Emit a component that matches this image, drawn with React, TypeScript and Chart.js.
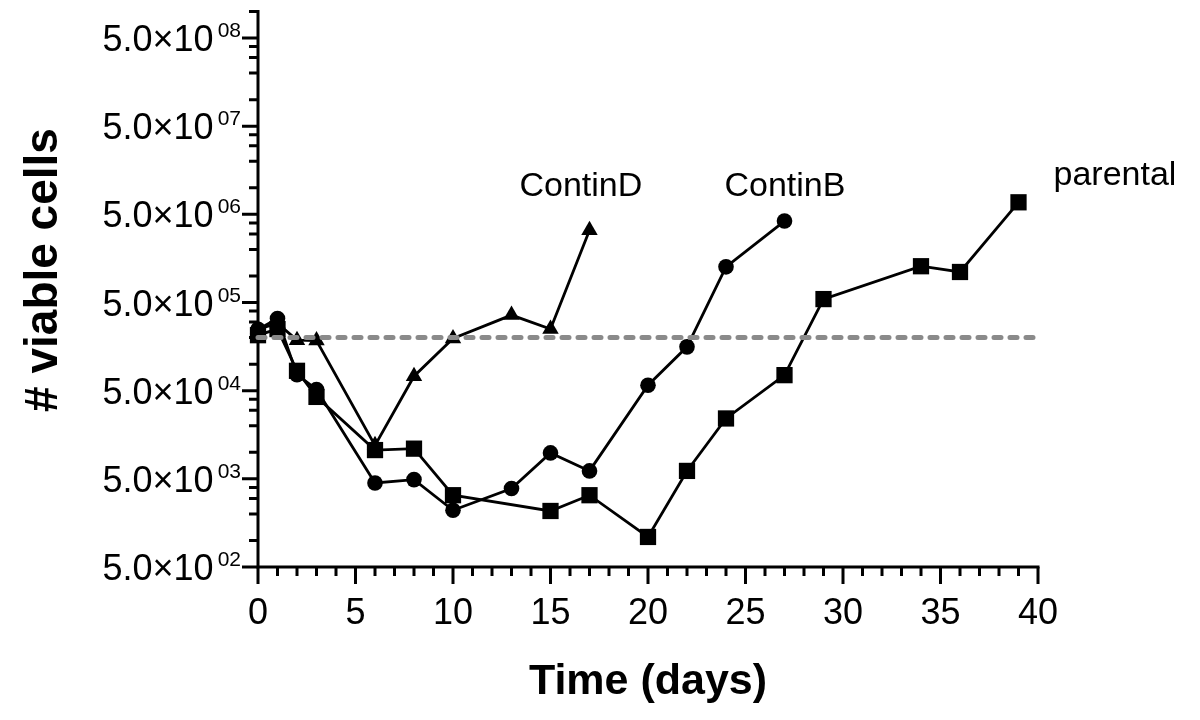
import React, { useEffect, useRef } from "react";
import { Chart, registerables } from "chart.js";

Chart.register(...registerables);

// ---- data ----
const contindDays = [0, 1, 2, 3, 6, 8, 10, 13, 15, 17];
const contindCells = [250000, 290000, 187000, 185000, 12000, 73000, 195000, 360000, 250000, 3300000];

const continbDays = [0, 1, 2, 3, 6, 8, 10, 13, 15, 17, 20, 22, 24, 27];
const continbCells = [248000, 330000, 76000, 51600, 4490, 4900, 2200, 3880, 9840, 6150, 57700, 157000, 1270000, 4200000];

const parentalDays = [0, 1, 2, 3, 6, 8, 10, 15, 17, 20, 22, 24, 27, 29, 34, 36, 39];
const parentalCells = [213000, 250000, 84000, 42500, 10600, 11000, 3260, 2160, 3260, 1096, 6150, 24200, 75000, 547000, 1290000, 1110000, 6850000];

const thresholdDays = [0, 40];
const thresholdCells = [200000, 200000];

// ---- axes ----
const xMin = 0;
const xMax = 40;
const xMajorTicks = [0, 5, 10, 15, 20, 25, 30, 35, 40];
const xMinorTicks = [1, 2, 3, 4, 6, 7, 8, 9, 11, 12, 13, 14, 16, 17, 18, 19, 21, 22, 23, 24, 26, 27, 28, 29, 31, 32, 33, 34, 36, 37, 38, 39];

const yMin = 500;
const yMax = 1e9;
const yMajorTicks = [5e2, 5e3, 5e4, 5e5, 5e6, 5e7, 5e8];
const yMajorMantissa = "5.0×10";
const yMajorExponents = ["02", "03", "04", "05", "06", "07", "08"];
const yMinorTicks = [
  1e3, 2e3, 3e3, 4e3,
  1e4, 2e4, 3e4, 4e4,
  1e5, 2e5, 3e5, 4e5,
  1e6, 2e6, 3e6, 4e6,
  1e7, 2e7, 3e7, 4e7,
  1e8, 2e8, 3e8, 4e8,
  1e9,
];

const xTitle = "Time (days)";
const yTitle = "# viable cells";
const seriesNames = ["ContinD", "ContinB", "parental"];

const FONT = '"Liberation Sans", Arial, Helvetica, sans-serif';

const toPoints = (xs: number[], ys: number[]) => xs.map((d, i) => ({ x: d, y: ys[i] }));

const axesPlugin = {
  id: "customAxes",
  beforeDatasetsDraw(chart: any) {
    const { ctx, scales } = chart;
    const xs = scales.x;
    const ys = scales.y;
    const x0 = xs.getPixelForValue(xMin);
    const x1 = xs.getPixelForValue(xMax);
    const yb = ys.getPixelForValue(yMin);
    const yt = ys.getPixelForValue(yMax);
    ctx.save();
    ctx.strokeStyle = "#000";
    ctx.fillStyle = "#000";
    ctx.lineWidth = 3;
    ctx.lineCap = "butt";
    // axis lines
    ctx.beginPath();
    ctx.moveTo(x0, yt - 1.5);
    ctx.lineTo(x0, yb + 1.5);
    ctx.moveTo(x0 - 1.5, yb);
    ctx.lineTo(x1 + 1.5, yb);
    ctx.stroke();
    // y ticks
    ctx.beginPath();
    yMinorTicks.forEach((v) => {
      const p = ys.getPixelForValue(v);
      ctx.moveTo(x0, p);
      ctx.lineTo(x0 - 9, p);
    });
    yMajorTicks.forEach((v) => {
      const p = ys.getPixelForValue(v);
      ctx.moveTo(x0, p);
      ctx.lineTo(x0 - 16, p);
    });
    // x ticks
    xMinorTicks.forEach((v) => {
      const p = xs.getPixelForValue(v);
      ctx.moveTo(p, yb);
      ctx.lineTo(p, yb + 9);
    });
    xMajorTicks.forEach((v) => {
      const p = xs.getPixelForValue(v);
      ctx.moveTo(p, yb);
      ctx.lineTo(p, yb + 17);
    });
    ctx.stroke();

    // y tick labels
    yMajorTicks.forEach((v, i) => {
      const p = ys.getPixelForValue(v);
      const right = x0 - 17;
      ctx.font = `21px ${FONT}`;
      ctx.textAlign = "right";
      ctx.textBaseline = "alphabetic";
      const exp = yMajorExponents[i];
      const ew = ctx.measureText(exp).width;
      ctx.fillText(exp, right, p - 1);
      ctx.font = `36px ${FONT}`;
      ctx.fillText(yMajorMantissa, right - ew - 4, p + 13);
    });

    // x tick labels
    ctx.font = `36px ${FONT}`;
    ctx.textAlign = "center";
    xMajorTicks.forEach((v) => {
      const p = xs.getPixelForValue(v);
      ctx.fillText(String(v), p, yb + 57);
    });

    // titles
    ctx.font = `bold 43px ${FONT}`;
    ctx.textAlign = "center";
    ctx.fillText(xTitle, (x0 + x1) / 2, yb + 127);

    ctx.save();
    ctx.translate(57, 270);
    ctx.rotate(-Math.PI / 2);
    ctx.font = `bold 46px ${FONT}`;
    ctx.textAlign = "center";
    ctx.fillText(yTitle, 0, 0);
    ctx.restore();

    ctx.restore();
  },
  afterDatasetsDraw(chart: any) {
    const { ctx, scales } = chart;
    const xs = scales.x;
    const ys = scales.y;
    const ends = [
      [contindDays[contindDays.length - 1], contindCells[contindCells.length - 1], -70, -34],
      [continbDays[continbDays.length - 1], continbCells[continbCells.length - 1], -60, -25],
      [parentalDays[parentalDays.length - 1], parentalCells[parentalCells.length - 1], 35, -17],
    ];
    ctx.save();
    ctx.fillStyle = "#000";
    ctx.font = `34px ${FONT}`;
    ctx.textAlign = "left";
    ctx.textBaseline = "alphabetic";
    ends.forEach((e, i) => {
      const px = xs.getPixelForValue(e[0]);
      const py = ys.getPixelForValue(e[1]);
      ctx.fillText(seriesNames[i], px + e[2], py + e[3]);
    });
    ctx.restore();
  },
};

export default function App() {
  const ref = useRef<HTMLCanvasElement | null>(null);

  useEffect(() => {
    if (!ref.current) return;
    const lineCommon = {
      borderColor: "#000",
      borderWidth: 2.8,
      pointBackgroundColor: "#000",
      pointBorderColor: "#000",
      pointBorderWidth: 0,
      tension: 0,
      clip: false as any,
    };
    const chart = new Chart(ref.current, {
      type: "line",
      data: {
        datasets: [
          {
            label: "threshold",
            data: toPoints(thresholdDays, thresholdCells),
            borderColor: "#8a8a8a",
            borderWidth: 5,
            borderDash: [7, 9],
            borderCapStyle: "round",
            pointRadius: 0,
            clip: false as any,
          },
          {
            label: seriesNames[0],
            data: toPoints(contindDays, contindCells),
            pointStyle: "triangle",
            pointRadius: 9.5,
            ...lineCommon,
          },
          {
            label: seriesNames[1],
            data: toPoints(continbDays, continbCells),
            pointStyle: "circle",
            pointRadius: 7.8,
            ...lineCommon,
          },
          {
            label: seriesNames[2],
            data: toPoints(parentalDays, parentalCells),
            pointStyle: "rect",
            pointRadius: 11.5,
            ...lineCommon,
          },
        ],
      },
      options: {
        animation: false,
        responsive: false,
        devicePixelRatio: 1,
        layout: { padding: { left: 258, right: 162, top: 11, bottom: 153 } },
        plugins: { legend: { display: false }, tooltip: { enabled: false } },
        scales: {
          x: { type: "linear", min: xMin, max: xMax, display: false },
          y: { type: "logarithmic", min: yMin, max: yMax, display: false },
        },
      },
      plugins: [axesPlugin],
    });
    return () => chart.destroy();
  }, []);

  return (
    <div style={{ position: "absolute", left: 0, top: 0, width: 1200, height: 720, background: "#fff" }}>
      <canvas ref={ref} width={1200} height={720} />
    </div>
  );
}
